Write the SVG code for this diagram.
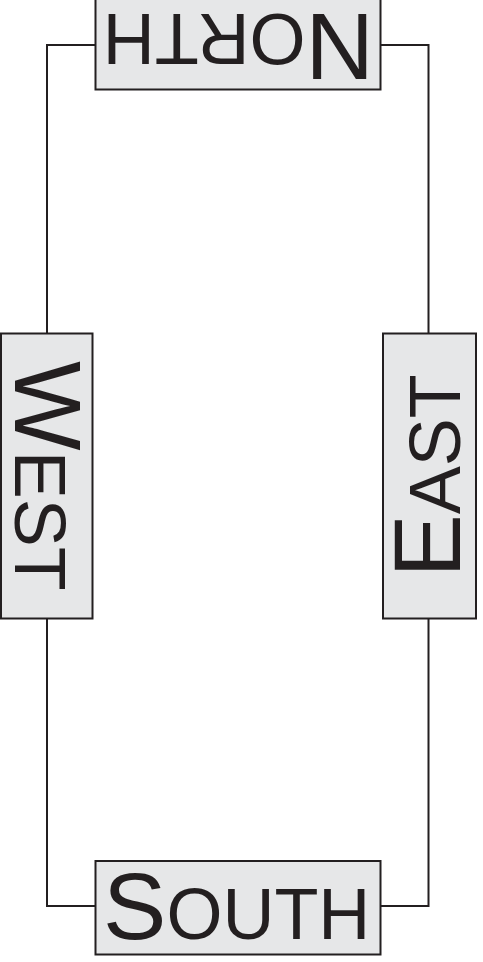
<svg xmlns="http://www.w3.org/2000/svg" width="483" height="962" viewBox="0 0 483 962">
<style>
.box{fill:#e6e7e8;stroke:#231f20;stroke-width:2}
.lbl{font-family:"Liberation Sans",Arial,sans-serif;font-size:95px;fill:#231f20}
.sc{font-size:72px}
.conn{fill:none;stroke:#231f20;stroke-width:2}
</style>
<g id="connectors">
<polyline class="conn" points="95,45 47,45 47,333"/>
<polyline class="conn" points="47,618 47,906 95,906"/>
<polyline class="conn" points="381,45 428.5,45 428.5,333"/>
<polyline class="conn" points="428.5,618 428.5,906 381,906"/>
</g>
<g id="north">
<rect class="box" x="95.5" y="-4.5" width="285" height="94"/>
<text class="lbl" transform="translate(374,14) rotate(180)">N<tspan class="sc">ORTH</tspan></text>
</g>
<g id="west">
<rect class="box" x="1" y="333.5" width="91.5" height="285"/>
<text class="lbl" transform="translate(15,361) rotate(90)">W<tspan class="sc">EST</tspan></text>
</g>
<g id="east">
<rect class="box" x="383" y="333.5" width="93" height="285"/>
<text class="lbl" transform="translate(459.7,577.6) rotate(-90)">E<tspan class="sc">AST</tspan></text>
</g>
<g id="south">
<rect class="box" x="95.5" y="861" width="285" height="93.5"/>
<text class="lbl" x="103" y="938.5">S<tspan class="sc">OUTH</tspan></text>
</g>
</svg>
